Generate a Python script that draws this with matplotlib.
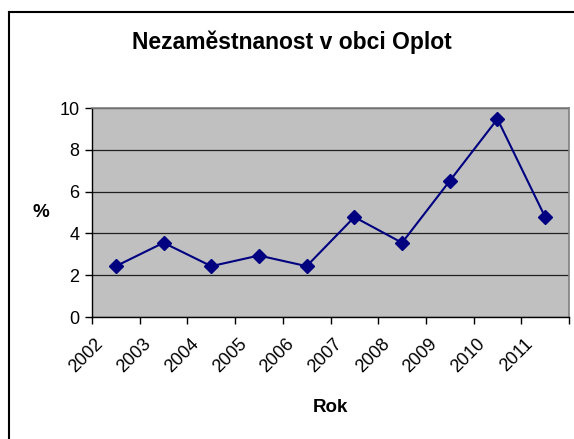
import matplotlib.pyplot as plt
import matplotlib.transforms as mtransforms
from matplotlib.lines import Line2D
import numpy as np

# Data
years = ['2002', '2003', '2004', '2005', '2006', '2007', '2008', '2009', '2010', '2011']
unemployment = [2.43, 3.55, 2.43, 2.94, 2.43, 4.78, 3.55, 6.51, 9.47, 4.78]

W, H = 574, 439
fig = plt.figure(figsize=(W / 100, H / 100 + 0.001), dpi=100)
plt.rcParams['font.family'] = ['Liberation Sans', 'DejaVu Sans']

# Outer chart border: only top and left edges are visible (image is cropped)
bx, by = 8.5 / W, 1 - 12.5 / H
fig.lines.append(Line2D([bx, 1.0], [by, by], transform=fig.transFigure, color='black', linewidth=1.5))
fig.lines.append(Line2D([bx, bx], [0.0, by], transform=fig.transFigure, color='black', linewidth=1.5))

# Plot area in pixels: left 92, right 569, top 108, bottom 317
left, right, top, bottom = 92, 569, 108, 317
ax = fig.add_axes([left / W, 1 - bottom / H, (right - left) / W, (bottom - top) / H])
ax.set_facecolor('#c0c0c0')

x = np.arange(len(years)) + 0.5
ax.plot(x, unemployment, color='#000080', linewidth=1.5, marker='D', markersize=7.5,
        markerfacecolor='#000080', markeredgecolor='#000080')

ax.set_xlim(0, len(years))
ax.set_ylim(0, 10)
ax.set_yticks(range(0, 11, 2))
ax.set_xticks(range(len(years) + 1))
ax.set_xticklabels([])
ax.set_xticks(x, minor=True)
ax.tick_params(axis='x', which='minor', length=0, pad=13)
ax.tick_params(axis='x', which='major', length=5, width=1, color='black', direction='out')
ax.tick_params(axis='y', length=5, width=1, color='black', direction='out', labelsize=13, pad=4)
labels = ax.set_xticklabels(years, minor=True, rotation=45, ha='right', va='top',
                            rotation_mode='anchor', fontsize=13)
# Excel puts the end of each rotated label left of the category centre
shift = mtransforms.ScaledTranslation(-21 / 100, 0, fig.dpi_scale_trans)
for lab in labels:
    lab.set_transform(lab.get_transform() + shift)

ax.grid(axis='y', color='#202020', linewidth=0.9)
ax.set_axisbelow(True)

for s in ['top', 'right']:
    ax.spines[s].set_color('#808080')
    ax.spines[s].set_linewidth(1.2)
for s in ['left', 'bottom']:
    ax.spines[s].set_color('black')
    ax.spines[s].set_linewidth(1.0)

fig.text(292 / W, 1 - 42 / H, 'Nezaměstnanost v obci Oplot', ha='center', va='center',
         fontsize=16.5, fontweight='bold')
fig.text(41 / W, 1 - 212 / H, '%', ha='center', va='center', fontsize=13.5, fontweight='bold')
fig.text(330 / W, 1 - 407 / H, 'Rok', ha='center', va='center', fontsize=13.5, fontweight='bold')

fig.savefig('out.png', dpi=100)
